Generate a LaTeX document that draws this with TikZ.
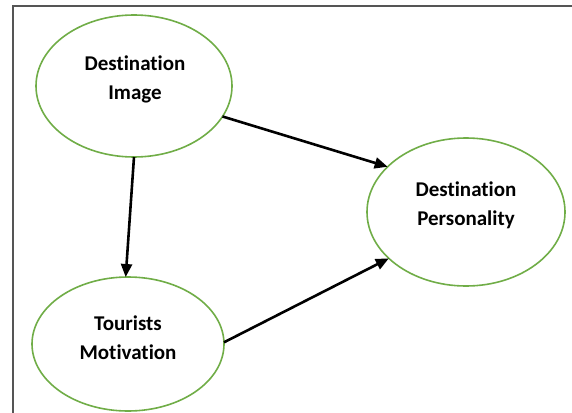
\documentclass[tikz,border=0pt]{standalone}
\usepackage{fontspec}
\setmainfont[Ligatures=NoCommon]{Carlito}
\usetikzlibrary{shapes.geometric,arrows.meta}
\definecolor{ovalgreen}{HTML}{70AD47}
\definecolor{framegray}{HTML}{555555}
\begin{document}
\begin{tikzpicture}[x=1pt,y=-1pt,
  construct/.style={ellipse,draw=ovalgreen,line width=1.6pt,fill=white,inner sep=0pt,outer sep=0pt},
  caption/.style={align=center,font=\fontsize{21}{29}\selectfont\bfseries,inner sep=0pt},
  link/.style={line width=2.6pt,-{Triangle[length=13pt,width=11pt]}},
  frameline/.style={draw=framegray,line width=1.6pt}]
  \useasboundingbox (0,0) rectangle (572,412);

  % open frame: left and top edges
  \coordinate (fbl) at (13,415);
  \coordinate (ftl) at (13,6);
  \coordinate (ftr) at (575,6);
  \draw[frameline] (fbl) -- (ftl) -- (ftr);

  % constructs
  \node[construct,minimum width=196pt,minimum height=142pt] (di) at (134,86) {};
  \node[construct,minimum width=198pt,minimum height=148pt] (dp) at (466,212) {};
  \node[construct,minimum width=192pt,minimum height=134pt] (tm) at (128,344) {};

  \node[caption] (diText) at (135,79) {Destination\\Image};
  \node[caption] (dpText) at (466,205) {Destination\\Personality};
  \node[caption] (tmText) at (128,338) {Tourists\\Motivation};

  % paths between constructs
  \draw[link] (di.-19) -- (dp.150);
  \draw[link] (di.-90) -- (tm.92);
  \draw[link] (tm.1) -- (dp.211);
\end{tikzpicture}
\end{document}
